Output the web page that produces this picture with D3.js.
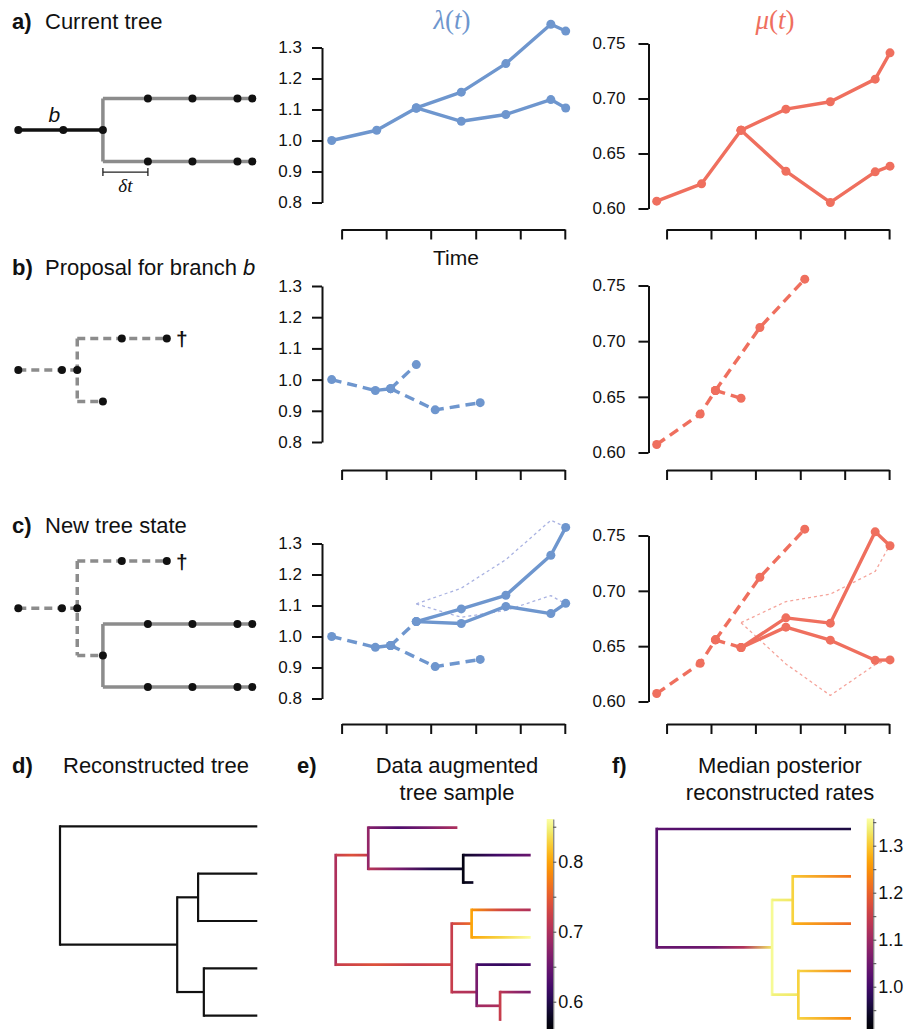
<!DOCTYPE html>
<html>
<head>
<meta charset="utf-8">
<script src="https://cdn.jsdelivr.net/npm/d3@7"></script>
<style>
  body { margin: 0; background: #fff; }
  text { font-family: "Liberation Sans", Arial, sans-serif; fill: #111; }
  .axis path, .axis line { stroke: #111; stroke-width: 2; }
  .axis text { font-family: "Liberation Sans", Arial, sans-serif; font-size: 17px; fill: #111; }
  .cbar path { stroke: #666; stroke-width: 1; }
  .cbar line { stroke: #444; stroke-width: 1; }
  .cbar text { font-family: "Liberation Sans", Arial, sans-serif; font-size: 18px; fill: #111; }
  .math { font-family: "Liberation Serif", "DejaVu Serif", serif; }
</style>
</head>
<body>
<svg id="fig" width="904" height="1029"></svg>
<script>
// ---------- data ----------
// times along the lineages, in units of delta t
const tTrunkA = [0, 1, 1.88];
const tDaughters = [1.88, 2.88, 3.87, 4.87, 5.2];
const tTrunkB = [0, 0.97, 1.31];
const tExtinct = [1.31, 2.3, 3.3];
const tShort = [1.31, 1.88];
const timeTicks = [0.22, 1.21, 2.2, 3.2, 4.19, 5.18];

// speciation rate lambda(t)
const lamTrunkA = [1.0, 1.033, 1.105];
const lamUpperA = [1.105, 1.156, 1.248, 1.375, 1.353];
const lamLowerA = [1.105, 1.062, 1.084, 1.132, 1.105];
const lamTrunkB = [1.0, 0.965, 0.971];
const lamExtinctB = [0.971, 0.903, 0.926];
const lamShortB = [0.971, 1.048];
const lamUpperC = [1.048, 1.089, 1.133, 1.262, 1.352];
const lamLowerC = [1.048, 1.042, 1.097, 1.074, 1.107];
const lamTicks = [0.8, 0.9, 1.0, 1.1, 1.2, 1.3];

// extinction rate mu(t)
const muTrunkA = [0.6067, 0.6224, 0.6712];
const muUpperA = [0.6712, 0.6903, 0.697, 0.7176, 0.7415];
const muLowerA = [0.6712, 0.6339, 0.6055, 0.6333, 0.6385];
const muTrunkB = [0.6072, 0.6345, 0.6557];
const muExtinctB = [0.6557, 0.7123, 0.7557];
const muShortB = [0.6557, 0.6487];
const muUpperC = [0.6487, 0.6756, 0.6708, 0.7533, 0.7407];
const muLowerC = [0.6487, 0.6672, 0.6554, 0.6373, 0.6376];
const muTicks = [0.60, 0.65, 0.70, 0.75];

// reconstructed tree with median posterior rates (t = relative depth)
const treeRates = {t: 0, v: 1.02, children: [
  {t: 1, rate: [1.03, 0.99, 0.96]},
  {t: 0.594, rate: [1.04, 1.04, 1.05, 1.12, 1.33], v: 1.35, children: [
    {t: 0.70, rate: [1.34, 1.33], v: 1.31, children: [
      {t: 1, rate: [1.30, 1.22]}, {t: 1, rate: [1.28, 1.21]}]},
    {t: 0.729, rate: [1.34, 1.33], v: 1.31, children: [
      {t: 1, rate: [1.31, 1.23]}, {t: 1, rate: [1.31, 1.24]}]}]}]};

// data augmented tree sample with extinct lineages
const treeAug = {t: 0, v: 0.70, children: [
  {t: 0.167, rate: [0.72, 0.74, 0.72], v: 0.68, children: [
    {t: 0.624, rate: [0.67, 0.63, 0.66, 0.70]},
    {t: 0.654, rate: [0.71, 0.66, 0.60, 0.58], v: 0.57, children: [
      {t: 1, rate: [0.58, 0.62, 0.65]},
      {t: 0.706, rate: [0.57, 0.58]}]}]},
  {t: 0.595, rate: [0.72, 0.74, 0.72, 0.73], v: 0.72, children: [
    {t: 0.697, rate: [0.73, 0.76], v: 0.80, children: [
      {t: 1, rate: [0.79, 0.73, 0.70]}, {t: 1, rate: [0.80, 0.83, 0.86]}]},
    {t: 0.723, rate: [0.71, 0.70], v: 0.66, children: [
      {t: 1, rate: [0.62, 0.61, 0.63]},
      {t: 0.843, rate: [0.69, 0.70], v: 0.72, children: [
        {t: 1, rate: [0.71, 0.68, 0.66]}, {t: 0.847, rate: [0.71, 0.71]}]}]}]}]};

const lamColor = "#6e96ce", lamFaint = "#aab3e2";
const muColor = "#ef6f5e", muFaint = "#f5a49b";

// ---------- drawing ----------
const svg = d3.select("#fig");
const defs = svg.append("defs");
let gradId = 0;

function label(x, y, tag, txt) {
  const t = svg.append("text").attr("x", x).attr("y", y).attr("font-size", 22);
  t.append("tspan").attr("font-weight", "bold").text(tag);
  return t;
}

function rateChart(cfg) {
  const g = svg.append("g");
  const x = d3.scaleLinear().domain([0, 5.2]).range(cfg.xRange);
  const y = d3.scaleLinear().domain(cfg.domain).range([cfg.yBot, cfg.yTop]);

  g.append("g").attr("class", "axis")
    .attr("transform", "translate(" + cfg.axisX + ",0)")
    .call(d3.axisLeft(y).tickValues(cfg.ticks).tickSize(10).tickSizeOuter(0)
      .tickPadding(cfg.pad).tickFormat(cfg.fmt));

  let t0 = timeTicks[0], t1 = timeTicks[timeTicks.length - 1];
  let xt = d3.scaleLinear().domain([t0, t1]).range([x(t0), x(t1)]);
  g.append("g").attr("class", "axis")
    .attr("transform", "translate(0," + cfg.axisY + ")")
    .call(d3.axisBottom(xt).tickValues(timeTicks).tickSize(10).tickSizeOuter(0).tickFormat(""));

  let line = d3.line().x(d => x(d.t)).y(d => y(d.v));

  cfg.series.forEach(s => {
    let pts = s.t.map((t, i) => ({t: t, v: s.v[i]}));
    let faint = s.style === "faint";
    g.append("path").datum(pts)
      .attr("d", line)
      .attr("fill", "none")
      .attr("stroke", faint ? cfg.faint : cfg.color)
      .attr("stroke-width", faint ? 1.3 : 3.4)
      .attr("stroke-linejoin", "round")
      .attr("stroke-dasharray", s.style === "dashed" ? "10,6" : faint ? "3,3" : null);
    if (!faint) {
      g.selectAll(null).data(pts).enter().append("circle")
        .attr("cx", d => x(d.t)).attr("cy", d => y(d.v))
        .attr("r", 4.5).attr("fill", cfg.color);
    }
  });
}

function treeSketch(branches, joins, cy) {
  const g = svg.append("g");
  const x = d3.scaleLinear().domain([0, 1]).range([18.3, 63.3]);
  const lane = l => cy + l * 31.5;
  const colorOf = s => s === "black" ? "#111" : "#8c8c8c";

  joins.forEach(j => {
    g.append("line")
      .attr("x1", x(j.t)).attr("x2", x(j.t))
      .attr("y1", lane(j.lanes[0])).attr("y2", lane(j.lanes[1]))
      .attr("stroke", colorOf(j.style)).attr("stroke-width", 3.5)
      .attr("stroke-dasharray", j.dashed ? "8,5" : null);
  });
  branches.forEach(b => {
    g.append("line")
      .attr("x1", x(b.t[0])).attr("x2", x(b.t[b.t.length - 1]))
      .attr("y1", lane(b.lane)).attr("y2", lane(b.lane))
      .attr("stroke", colorOf(b.style)).attr("stroke-width", 3.5)
      .attr("stroke-dasharray", b.dashed ? "8,5" : null);
  });
  branches.forEach(b => {
    let dots = b.tail ? b.t.slice(1) : b.t;
    g.selectAll(null).data(dots).enter().append("circle")
      .attr("cx", d => x(d)).attr("cy", lane(b.lane)).attr("r", 4).attr("fill", "#111");
    if (b.dead) {
      g.append("text")
        .attr("x", x(b.t[b.t.length - 1]) + 15).attr("y", lane(b.lane) + 7.5)
        .attr("text-anchor", "middle").attr("font-size", 21).attr("font-weight", "bold")
        .text("\u2020");
    }
  });
  return {g: g, x: x, lane: lane};
}

function phylo(data, cfg) {
  const g = svg.append("g");
  const root = d3.hierarchy(data);
  const leaves = root.leaves();
  const yTip = d3.scaleLinear().domain([0, leaves.length - 1]).range([cfg.yTop, cfg.yBot]);
  leaves.forEach((l, i) => { l.y = yTip(i); });
  root.eachAfter(n => { if (n.children) n.y = d3.mean(n.leaves(), l => l.y); });
  const x = d3.scaleLinear().domain([0, 1]).range(cfg.xRange);

  root.descendants().forEach(n => {
    if (n.parent) {
      let x1 = x(n.parent.data.t), x2 = x(n.data.t);
      let stroke = cfg.color;
      if (cfg.scale) {
        let id = "grad" + (gradId++);
        let grad = defs.append("linearGradient").attr("id", id)
          .attr("gradientUnits", "userSpaceOnUse")
          .attr("x1", x1).attr("x2", x2 + 0.01).attr("y1", 0).attr("y2", 0);
        let r = n.data.rate;
        r.forEach((v, i) => {
          grad.append("stop").attr("offset", r.length > 1 ? i / (r.length - 1) : 0)
            .attr("stop-color", cfg.scale(v));
        });
        stroke = "url(#" + id + ")";
      }
      g.append("line")
        .attr("x1", x1).attr("x2", x2).attr("y1", n.y).attr("y2", n.y)
        .attr("stroke", stroke).attr("stroke-width", cfg.width);
    }
    if (n.children) {
      let ys = n.children.map(c => c.y);
      g.append("line")
        .attr("x1", x(n.data.t)).attr("x2", x(n.data.t))
        .attr("y1", d3.min(ys) - cfg.width / 2).attr("y2", d3.max(ys) + cfg.width / 2)
        .attr("stroke", cfg.scale ? cfg.scale(n.data.v) : cfg.color)
        .attr("stroke-width", cfg.width);
    }
  });
}

function colorBar(scale, cfg) {
  const y = d3.scaleLinear().domain(scale.domain()).range([cfg.yBot, cfg.yTop]);
  const id = "cbar" + (gradId++);
  const grad = defs.append("linearGradient").attr("id", id)
    .attr("x1", 0).attr("x2", 0).attr("y1", 1).attr("y2", 0);
  d3.range(0, 1.0001, 0.05).forEach(p => {
    grad.append("stop").attr("offset", p).attr("stop-color", d3.interpolateInferno(p));
  });
  svg.append("rect")
    .attr("x", cfg.x).attr("width", 6.6)
    .attr("y", cfg.yTop).attr("height", cfg.yBot - cfg.yTop)
    .attr("fill", "url(#" + id + ")");
  svg.append("g").attr("class", "cbar")
    .attr("transform", "translate(" + (cfg.x + 6.6) + ",0)")
    .call(d3.axisRight(y).tickValues(cfg.ticks).tickSize(3).tickSizeOuter(0).tickPadding(2)
      .tickFormat(d => cfg.labels.some(l => Math.abs(l - d) < 1e-6) ? d3.format(".1f")(d) : ""));
}

// ---------- panel titles ----------
label(12, 29, "a)").append("tspan").attr("x", 45).text("Current tree");
let tb = label(12, 275, "b)");
tb.append("tspan").attr("x", 45).text("Proposal for branch ");
tb.append("tspan").attr("font-style", "italic").text("b");
label(12, 533, "c)").append("tspan").attr("x", 45).text("New tree state");
label(12, 773, "d)").append("tspan").attr("x", 63).text("Reconstructed tree");
label(297, 773, "e)");
label(612, 773, "f)");
[["Data augmented", 457, 773], ["tree sample", 457, 800],
 ["Median posterior", 780, 773], ["reconstructed rates", 780, 800]].forEach(d => {
  svg.append("text").attr("x", d[1]).attr("y", d[2]).attr("text-anchor", "middle")
    .attr("font-size", 22).text(d[0]);
});

// lambda / mu headers
[["\u03bb", 452, lamColor], ["\u03bc", 775, muColor]].forEach(d => {
  let t = svg.append("text").attr("class", "math").attr("x", d[1]).attr("y", 29)
    .attr("text-anchor", "middle").attr("font-size", 27).style("fill", d[2]);
  t.append("tspan").attr("font-style", "italic").text(d[0]);
  t.append("tspan").text("(");
  t.append("tspan").attr("font-style", "italic").text("t");
  t.append("tspan").text(")");
});
svg.append("text").attr("x", 456).attr("y", 265).attr("text-anchor", "middle")
  .attr("font-size", 21).text("Time");

// ---------- tree sketches a-c ----------
let ta = treeSketch([
  {t: tTrunkA, lane: 0, style: "black"},
  {t: tDaughters, lane: -1, style: "gray", tail: true},
  {t: tDaughters, lane: 1, style: "gray", tail: true}
], [{t: tTrunkA[2], lanes: [-1, 1], style: "gray"}], 130);
// reordered so the black trunk sits on top of the join
ta.g.append("text").attr("x", ta.x(0.8)).attr("y", ta.lane(0) - 8.5)
  .attr("text-anchor", "middle").attr("font-size", 21).attr("font-style", "italic").text("b");
let dtY = ta.lane(1) + 10.6;
ta.g.append("path")
  .attr("d", "M" + ta.x(tDaughters[0]) + "," + (dtY - 4) + "V" + (dtY + 4) + "M" + ta.x(tDaughters[0]) + "," + dtY +
    "H" + ta.x(tDaughters[1]) + "M" + ta.x(tDaughters[1]) + "," + (dtY - 4) + "V" + (dtY + 4))
  .attr("fill", "none").attr("stroke", "#222").attr("stroke-width", 1.3);
let dt = ta.g.append("text").attr("class", "math").attr("x", (ta.x(tDaughters[0]) + ta.x(tDaughters[1])) / 2)
  .attr("y", 192).attr("text-anchor", "middle").attr("font-size", 19).attr("font-style", "italic");
dt.append("tspan").text("\u03b4t");

treeSketch([
  {t: tTrunkB, lane: 0, style: "gray", dashed: true},
  {t: tExtinct, lane: -1, style: "gray", dashed: true, tail: true, dead: true},
  {t: tShort, lane: 1, style: "gray", dashed: true, tail: true}
], [{t: tTrunkB[2], lanes: [-1, 1], style: "gray", dashed: true}], 370);

treeSketch([
  {t: tTrunkB, lane: 0, style: "gray", dashed: true},
  {t: tExtinct, lane: -1.5, style: "gray", dashed: true, tail: true, dead: true},
  {t: tDaughters, lane: 0.5, style: "gray", tail: true},
  {t: tDaughters, lane: 2.5, style: "gray", tail: true},
  {t: tShort, lane: 1.5, style: "gray", dashed: true, tail: true}
], [{t: tTrunkB[2], lanes: [-1.5, 1.5], style: "gray", dashed: true},
    {t: tShort[1], lanes: [0.5, 2.5], style: "gray"}], 608.3);

// ---------- rate charts ----------
const rows = [
  {lamTop: 47.5, lamBot: 202.5, muTop: 43.5, muBot: 208.5, axisY: 229.5,
   lam: [{t: tTrunkA, v: lamTrunkA}, {t: tDaughters, v: lamUpperA}, {t: tDaughters, v: lamLowerA}],
   mu: [{t: tTrunkA, v: muTrunkA}, {t: tDaughters, v: muUpperA}, {t: tDaughters, v: muLowerA}]},
  {lamTop: 286, lamBot: 442, muTop: 285.5, muBot: 452.5, axisY: 470,
   lam: [{t: tTrunkB, v: lamTrunkB, style: "dashed"}, {t: tExtinct, v: lamExtinctB, style: "dashed"},
         {t: tShort, v: lamShortB, style: "dashed"}],
   mu: [{t: tTrunkB, v: muTrunkB, style: "dashed"}, {t: tExtinct, v: muExtinctB, style: "dashed"},
        {t: tShort, v: muShortB, style: "dashed"}]},
  {lamTop: 543.5, lamBot: 698.5, muTop: 535.5, muBot: 701.5, axisY: 724,
   lam: [{t: tDaughters, v: lamUpperA, style: "faint"}, {t: tDaughters, v: lamLowerA, style: "faint"},
         {t: tTrunkB, v: lamTrunkB, style: "dashed"}, {t: tExtinct, v: lamExtinctB, style: "dashed"},
         {t: tShort, v: lamShortB, style: "dashed"},
         {t: tDaughters, v: lamUpperC}, {t: tDaughters, v: lamLowerC}],
   mu: [{t: tDaughters, v: muUpperA, style: "faint"}, {t: tDaughters, v: muLowerA, style: "faint"},
        {t: tTrunkB, v: muTrunkB, style: "dashed"}, {t: tExtinct, v: muExtinctB, style: "dashed"},
        {t: tShort, v: muShortB, style: "dashed"},
        {t: tDaughters, v: muUpperC}, {t: tDaughters, v: muLowerC}]}
];

rows.forEach(r => {
  rateChart({xRange: [331.7, 565.7], domain: [0.8, 1.3], yTop: r.lamTop, yBot: r.lamBot,
    axisX: 322, axisY: r.axisY, ticks: lamTicks, fmt: d3.format(".1f"), pad: 10,
    color: lamColor, faint: lamFaint, series: r.lam});
  rateChart({xRange: [656.7, 890], domain: [0.60, 0.75], yTop: r.muTop, yBot: r.muBot,
    axisX: 648.5, axisY: r.axisY, ticks: muTicks, fmt: d3.format(".2f"), pad: 13,
    color: muColor, faint: muFaint, series: r.mu});
});

// ---------- bottom trees ----------
const augScale = d3.scaleSequential(d3.interpolateInferno).domain([0.56, 0.861]);
const rateScale = d3.scaleSequential(d3.interpolateInferno).domain([0.91, 1.358]);

phylo(treeRates, {xRange: [60, 257.3], yTop: 826.3, yBot: 1015.7, color: "#111", width: 2.2});
phylo(treeAug, {xRange: [335.7, 530.7], yTop: 827.7, yBot: 1019.5, scale: augScale, width: 2.7});
phylo(treeRates, {xRange: [656.7, 851], yTop: 829, yBot: 1018.3, scale: rateScale, width: 2.7});

colorBar(augScale, {x: 546.7, yTop: 861.7 - (0.861 - 0.8) * 700, yBot: 861.7 + (0.8 - 0.56) * 700,
  ticks: [0.6, 0.65, 0.7, 0.75, 0.8, 0.85], labels: [0.6, 0.7, 0.8]});
colorBar(rateScale, {x: 866.7, yTop: 845.7 - (1.358 - 1.3) * 470, yBot: 845.7 + (1.3 - 0.91) * 470,
  ticks: [0.95, 1.0, 1.05, 1.1, 1.15, 1.2, 1.25, 1.3, 1.35], labels: [1.0, 1.1, 1.2, 1.3]});
</script>
</body>
</html>
